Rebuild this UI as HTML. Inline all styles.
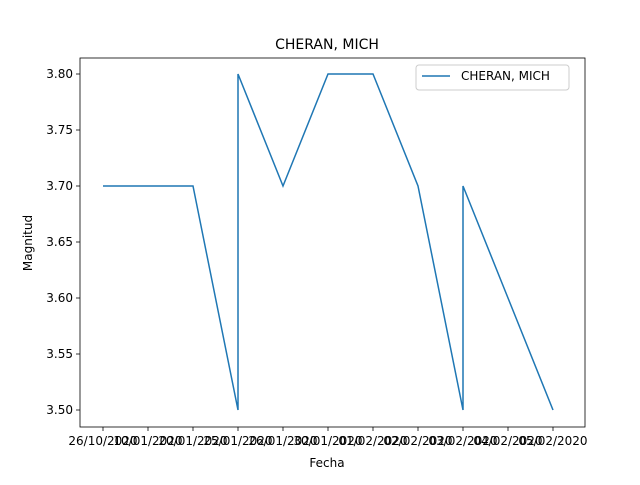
<!DOCTYPE html>
<html><head><meta charset="utf-8"><style>
body{margin:0;background:#fff}
svg text{font-family:"DejaVu Sans","Liberation Sans",sans-serif;fill:#000}
</style></head><body>
<svg width="640" height="480">
<rect width="640" height="480" fill="#fff"/>
<g id="g"></g>
</svg>
<script>
const tickLabels=["26/10/2020","10/01/2020","20/01/2020","25/01/2020","26/01/2020","30/01/2020","01/02/2020","02/02/2020","03/02/2020","04/02/2020","05/02/2020"];
const pointCats=[0,1,2,3,3,4,5,6,7,8,8,9,10];
const values=[3.7,3.7,3.7,3.5,3.8,3.7,3.8,3.8,3.7,3.5,3.7,3.6,3.5];
const yTicks=[3.50,3.55,3.60,3.65,3.70,3.75,3.80];
const L=80,R=585,T=58,B=427;
const x=i=>103+i*45;
const y=v=>410-(v-3.5)/0.3*336;
const g=document.getElementById('g');const NS="http://www.w3.org/2000/svg";
function el(t,a,txt){const e=document.createElementNS(NS,t);for(const k in a)e.setAttribute(k,a[k]);if(txt!==undefined)e.textContent=txt;g.appendChild(e);return e;}
let e=el('text',{x:327,y:49,'text-anchor':'middle','font-size':14},'CHERAN, MICH');


tickLabels.forEach((t,i)=>{
 let l=el('line',{x1:x(i),x2:x(i),y1:B,y2:B+4,stroke:'#000','stroke-width':0.8});
 
 
 let tx=el('text',{x:x(i),y:B+18,'text-anchor':'middle','font-size':12},t);
 
 
});
yTicks.forEach(v=>{
 let l=el('line',{x1:L-4,x2:L,y1:y(v),y2:y(v),stroke:'#000','stroke-width':0.8});
 
 
 let tx=el('text',{x:L-7,y:y(v)+4,'text-anchor':'end','font-size':12},v.toFixed(2));
 
 
});
let p=el('polyline',{points:values.map((v,i)=>x(pointCats[i])+','+y(v)).join(' '),fill:'none',stroke:'#1f77b4','stroke-width':1.5});


let fr=el('rect',{x:L,y:T,width:R-L,height:B-T,fill:'none',stroke:'#000','stroke-width':0.8});


let xt=el('text',{x:327,y:467,'text-anchor':'middle','font-size':12},'Fecha');


let yt=el('text',{x:32,y:243,'text-anchor':'middle','font-size':12,transform:'rotate(-90 32 243)'},'Magnitud');


let lg=el('rect',{x:416,y:65,width:153,height:25,rx:3,fill:'#fff',stroke:'#ccc'});


let ll=el('line',{x1:422,x2:450,y1:76,y2:76,stroke:'#1f77b4','stroke-width':1.5});


let lt=el('text',{x:461,y:80,'font-size':12},'CHERAN, MICH');


</script>
</body></html>
